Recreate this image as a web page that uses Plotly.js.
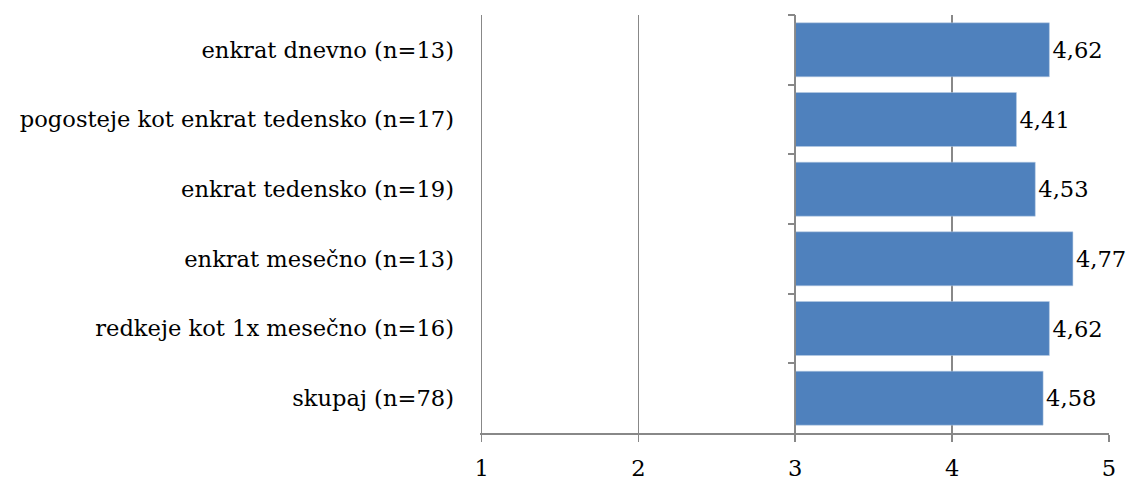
<!DOCTYPE html>
<html>
<head>
<meta charset="utf-8">
<script src="https://cdn.plot.ly/plotly-3.0.1.min.js"></script>
<style>html,body{margin:0;padding:0;background:#fff}#chart{width:1139px;height:483px}</style>
</head>
<body>
<div id="chart"></div>
<script>
const categories = [
  "enkrat dnevno (n=13)",
  "pogosteje kot enkrat tedensko (n=17)",
  "enkrat tedensko (n=19)",
  "enkrat mesečno (n=13)",
  "redkeje kot 1x mesečno (n=16)",
  "skupaj (n=78)"
];
const values = [4.62, 4.41, 4.53, 4.77, 4.62, 4.58];
const xTicks = [1, 2, 3, 4, 5];
const baseValue = 3;

const labels = values.map(v => v.toFixed(2).replace('.', ','));
const font = {family: "DejaVu Serif", size: 22.6, color: "#000"};
const axisGray = "#888888";

Plotly.newPlot("chart", [{
  type: "bar",
  orientation: "h",
  y: categories,
  x: values.map(v => v - baseValue),
  base: baseValue,
  text: labels,
  textposition: "outside",
  textfont: font,
  cliponaxis: false,
  marker: {color: "#4F81BD", line: {color: "#b9cde5", width: 0.5}},
  hoverinfo: "skip"
}], {
  width: 1139, height: 483,
  margin: {l: 480, r: 30, t: 15, b: 50},
  paper_bgcolor: "#fff", plot_bgcolor: "#fff",
  bargap: 0.225,
  showlegend: false,
  font: font,
  xaxis: {
    range: [0.99, 5], tickvals: xTicks, ticktext: xTicks.map(String),
    showgrid: true, gridcolor: axisGray, gridwidth: 1.7,
    zeroline: false, showline: true, linecolor: axisGray, linewidth: 1.7,
    ticks: "outside", ticklen: 7, tickcolor: axisGray, tickwidth: 1.7,
    ticklabelstandoff: 7,
    tickfont: font, fixedrange: true
  },
  yaxis: {
    type: "category", autorange: "reversed",
    anchor: "free", position: 0.5,
    showline: true, linecolor: axisGray, linewidth: 1.7,
    ticks: "outside", tickson: "boundaries", ticklen: 7, tickcolor: axisGray, tickwidth: 1.7,
    showgrid: false, zeroline: false,
    ticklabelstandoff: 336,
    tickfont: font, fixedrange: true
  }
}, {displayModeBar: false, staticPlot: true});
</script>
</body>
</html>
